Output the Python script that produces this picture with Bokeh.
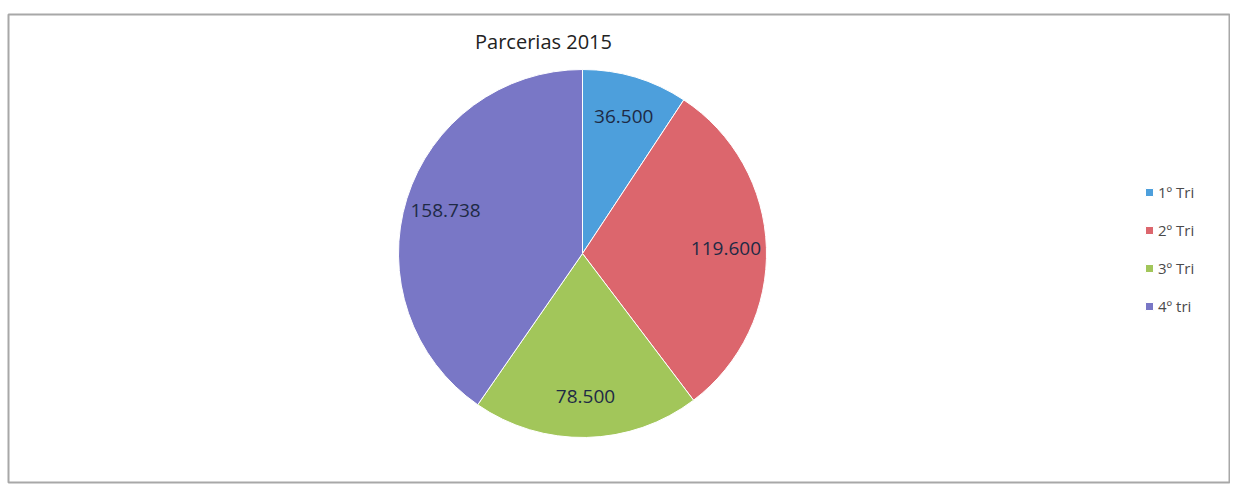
import math
from bokeh.plotting import figure
from bokeh.models import ColumnDataSource, Legend, LegendItem, Label
from bokeh.core.properties import value
from bokeh.embed import file_html
from bokeh.resources import INLINE

title = "Parcerias 2015"
categories = ["1º Tri", "2º Tri", "3º Tri", "4º tri"]
values = [36.500, 119.600, 78.500, 158.738]
labels = ["36.500", "119.600", "78.500", "158.738"]
colors = ["#4d9fdc", "#dc666d", "#a2c65a", "#7977c6"]

# frame occupies page x 8..1229, y 14..482
LB, TB = 8, 14
W, H = 1230, 484
FW, FH = W - LB - 1, H - TB - 2
cx, cy, r = 582 - LB, FH - (253 - TB), 184

total = sum(values)
starts, ends, lx, ly = [], [], [], []
cum = 0.0
for v in values:
    a0 = math.pi / 2 - 2 * math.pi * cum / total
    cum += v
    a1 = math.pi / 2 - 2 * math.pi * cum / total
    starts.append(a1)
    ends.append(a0)
    mid = (a0 + a1) / 2
    lx.append(cx + 0.78 * r * math.cos(mid))
    ly.append(cy + 0.78 * r * math.sin(mid))

src = ColumnDataSource(dict(cat=categories, val=values, start=starts, end=ends,
                            color=colors, lx=lx, ly=ly, lab=labels))

p = figure(width=W, height=H, output_backend="svg", toolbar_location=None,
           x_range=(0, FW), y_range=(0, FH),
           min_border_left=LB, min_border_top=TB, min_border_right=1,
           min_border_bottom=2,
           background_fill_color="white", border_fill_color="white")
p.axis.visible = False
p.grid.visible = False
p.outline_line_color = "#a8a8a8"
p.outline_line_width = 2

wr = p.wedge(x=cx, y=cy, radius=r, start_angle="start", end_angle="end",
             fill_color="color", line_color="white", line_width=1, source=src)

p.text(x="lx", y="ly", text="lab", source=src, text_align="center",
       text_baseline="middle", text_font=value("Open Sans"),
       text_font_size="19px", text_color="#1e2a45")

p.add_layout(Label(x=543 - LB, y=FH - (41 - TB), x_units="screen", y_units="screen",
                   text=title, text_font="Open Sans", text_font_size="20px",
                   text_color="#222222", text_align="center",
                   text_baseline="middle"))

items = [LegendItem(label=c, renderers=[wr], index=i) for i, c in enumerate(categories)]
legend = Legend(items=items, location=(1144 - LB, FH - (182 - TB) - 134),
                padding=0, margin=0,
                spacing=18, glyph_width=10, glyph_height=10, label_height=20,
                label_standoff=4, label_text_font="Open Sans",
                label_text_font_size="15px", label_text_color="#4a4a4a",
                border_line_color=None, background_fill_alpha=0)
p.add_layout(legend)

open("out.html", "w").write(file_html(p, INLINE))
